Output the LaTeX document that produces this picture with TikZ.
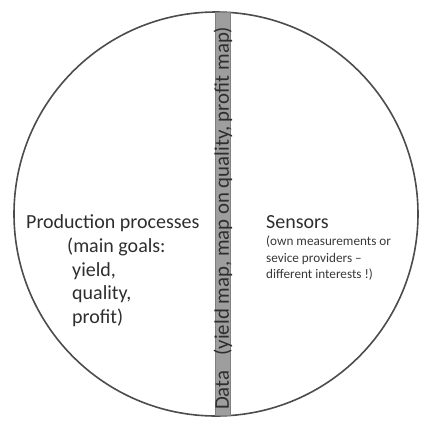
\documentclass[tikz,border=0pt]{standalone}
\usepackage{fontspec}
\setmainfont{Carlito}
\begin{document}
\begin{tikzpicture}[x=1pt,y=-1pt,
  txt/.style={text=black!82, inner sep=0pt, font=\fontsize{20}{24}\selectfont},
  small/.style={text=black!78, inner sep=0pt, font=\fontsize{13.2}{15}\selectfont},
  bar/.style={fill=black!38, draw=black!50, line width=0.6pt}]
\useasboundingbox (0,0) rectangle (421,421);
\node[circle, draw=black!70, line width=1.6pt, minimum size=404pt, inner sep=0pt] (circ) at (216,214) {};
\node[bar, minimum width=15pt, minimum height=403pt, inner sep=0pt] (databar) at (222.5,214) {};
\node[rotate=90, anchor=base west, text=black!82, inner sep=0pt, font=\fontsize{20.8}{24}\selectfont] (datatxt) at (228.8,410) {Data\hspace{15pt}(yield map, map on quality, profit map)};
\node[txt, anchor=base west] (p1) at (26,228) {Production processes};
\node[txt, anchor=base west] (p2) at (67,252) {(main goals:};
\node[txt, anchor=base west] (p3) at (72,276) {yield,};
\node[txt, anchor=base west] (p4) at (72,299.5) {quality,};
\node[txt, anchor=base west] (p5) at (72,323) {profit)};
\node[txt, anchor=base west] (s1) at (266,228) {Sensors};
\node[small, anchor=base west] (s2) at (266,245) {(own measurements or};
\node[small, anchor=base west] (s3) at (266,262) {sevice providers --};
\node[small, anchor=base west] (s4) at (266,278) {different interests !)};
\end{tikzpicture}
\end{document}
